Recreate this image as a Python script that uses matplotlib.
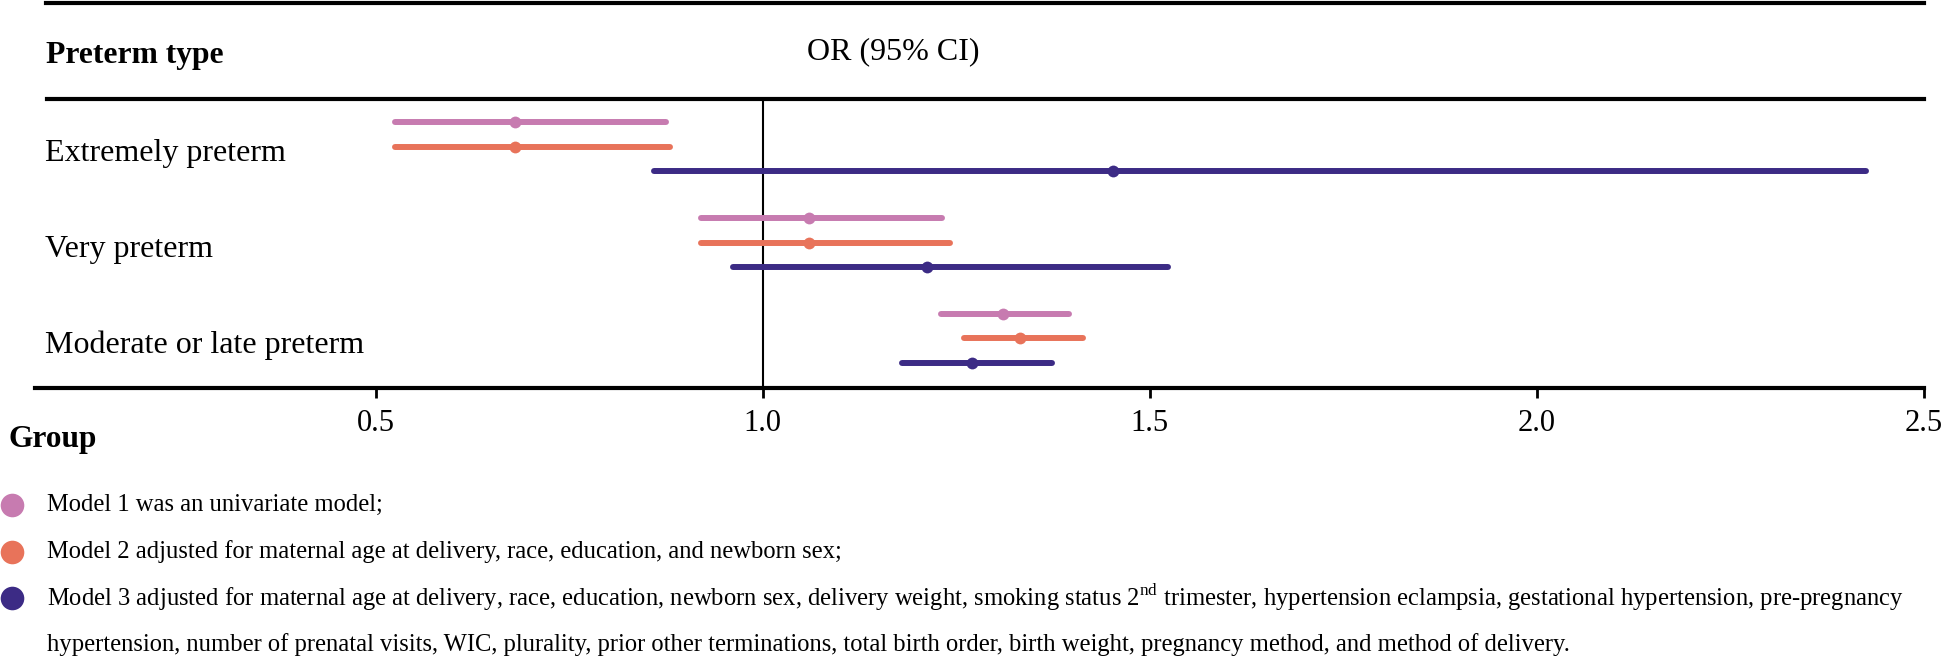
import matplotlib
matplotlib.use("Agg")
import matplotlib.pyplot as plt
from matplotlib.transforms import blended_transform_factory

plt.rcParams["font.family"] = ["Liberation Serif", "DejaVu Serif"]
plt.rcParams["mathtext.fontset"] = "custom"
plt.rcParams["mathtext.rm"] = "Liberation Serif"

# ---- data ----
preterm_types = ["Extremely preterm", "Very preterm", "Moderate or late preterm"]
models = ["Model 1", "Model 2", "Model 3"]
colors = ["#C77BB0", "#E8735A", "#3C2B85"]

# OR, lower CI, upper CI per model (rows follow preterm_types)
or_m1 = [0.68, 1.06, 1.31]
lo_m1 = [0.525, 0.92, 1.23]
hi_m1 = [0.875, 1.232, 1.395]

or_m2 = [0.68, 1.06, 1.332]
lo_m2 = [0.525, 0.92, 1.26]
hi_m2 = [0.88, 1.242, 1.414]

or_m3 = [1.452, 1.212, 1.27]
lo_m3 = [0.86, 0.961, 1.18]
hi_m3 = [2.425, 1.524, 1.374]

xticks = [0.5, 1.0, 1.5, 2.0, 2.5]
xtick_labels = ["0.5", "1.0", "1.5", "2.0", "2.5"]

legend_lines = [
    "Model 1 was an univariate model;",
    "Model 2 adjusted for maternal age at delivery, race, education, and newborn sex;",
    "Model 3 adjusted for maternal age at delivery, race, education, newborn sex, delivery weight, "
    "smoking status 2$^{\\mathrm{nd}}$ trimester, hypertension eclampsia, gestational hypertension, pre-pregnancy",
]
legend_cont = ("hypertension, number of prenatal visits, WIC, plurality, prior other terminations, "
               "total birth order, birth weight, pregnancy method, and method of delivery.")

W, H = 1945, 657
fig = plt.figure(figsize=(W / 100, H / 100), dpi=100)

# main panel: pixels 35..1924 horizontally, 99..388 vertically
ax = fig.add_axes([35 / W, 1 - 388 / H, 1889 / W, 289 / H])
ax.set_xlim(0.06, 2.5)
ax.set_ylim(2.52, -0.5)

offset = 0.257
series = [(or_m1, lo_m1, hi_m1), (or_m2, lo_m2, hi_m2), (or_m3, lo_m3, hi_m3)]
for k, (est, lo, hi) in enumerate(series):
    for i in range(len(preterm_types)):
        y = i + (k - 1) * offset
        ax.plot([lo[i], hi[i]], [y, y], color=colors[k], lw=4.3,
                solid_capstyle="round", zorder=3)
        ax.plot(est[i], y, "o", color=colors[k], ms=8.5, mec="none", zorder=4)

ax.axvline(1.0, color="black", lw=1.5, zorder=2)

for s in ["left", "right"]:
    ax.spines[s].set_visible(False)
ax.spines["top"].set_linewidth(3)
ax.spines["bottom"].set_linewidth(3)
ax.spines["top"].set_bounds(0.075, 2.5)
ax.set_yticks([])
ax.set_xticks(xticks)
ax.set_xticklabels(xtick_labels, fontsize=22)
ax.tick_params(axis="x", length=7, width=2, pad=8)

trans = blended_transform_factory(ax.transAxes, ax.transData)
for i, name in enumerate(preterm_types):
    ax.text(0.0053, i + 0.07, name, transform=trans, fontsize=23,
            ha="left", va="center")

# header
fig.add_artist(plt.Line2D([46 / W, 1924 / W], [1 - 3 / H, 1 - 3 / H],
                          color="black", lw=3, transform=fig.transFigure))
fig.text(46 / W, 1 - 56 / H, "Preterm type", fontsize=22.8, fontweight="bold",
         ha="left", va="center")
fig.text(893 / W, 1 - 52 / H, "OR (95% CI)", fontsize=23, ha="center", va="center")

# legend
fig.text(8 / W, 1 - 440 / H, "Group", fontsize=22.6, fontweight="bold",
         ha="left", va="center")
lg = fig.add_axes([0, 0, 1, 1], zorder=-1)
lg.set_xlim(0, W)
lg.set_ylim(H, 0)
lg.axis("off")
y0, step = 505, 46.5
for k, txt in enumerate(legend_lines):
    y = y0 + k * step
    lg.plot(12, y, "o", color=colors[k], ms=17, mec="none", clip_on=False)
    lg.text(47, y, txt, fontsize=17.75, ha="left", va="center")
lg.text(47, y0 + 3 * step, legend_cont, fontsize=17.75, ha="left", va="center")

fig.savefig("out.png", dpi=100)
